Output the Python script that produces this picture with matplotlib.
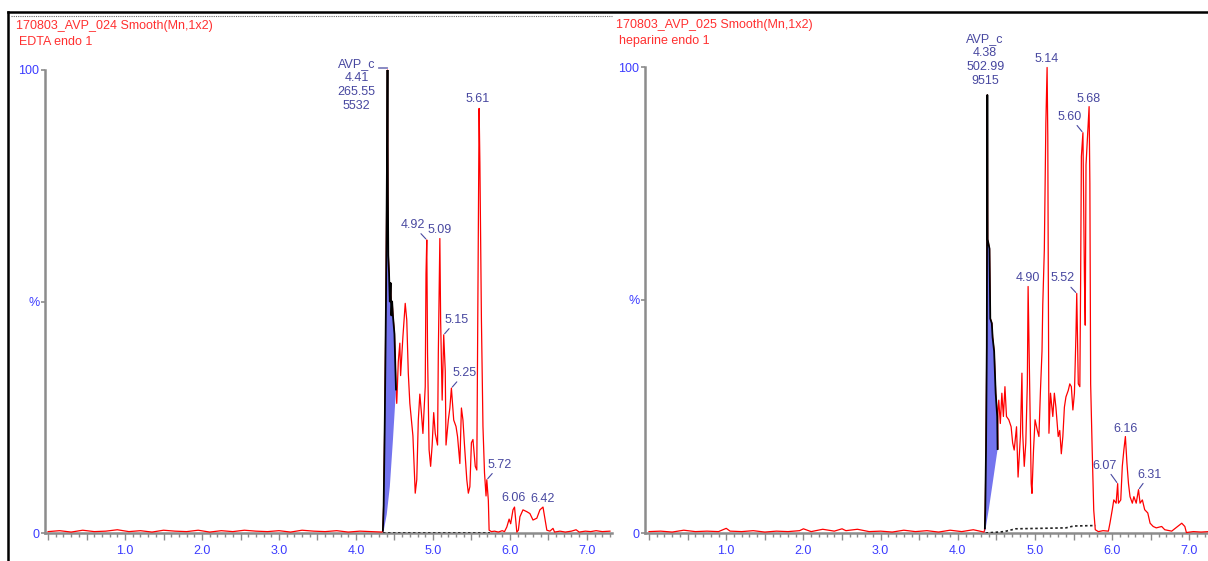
import matplotlib
matplotlib.use('Agg')
import matplotlib.pyplot as plt
from matplotlib.lines import Line2D
from matplotlib.ticker import MultipleLocator, FixedLocator
from matplotlib.transforms import offset_copy

plt.rcParams['font.family'] = ['Liberation Sans', 'DejaVu Sans']

W, H = 1208, 561

# ---------------- left run: EDTA ----------------
titles_l = ['170803_AVP_024 Smooth(Mn,1x2)', 'EDTA endo 1']
base_l_x = [0.0, 0.15, 0.3, 0.45, 0.6, 0.75, 0.9, 1.05, 1.2, 1.35, 1.5, 1.65, 1.8, 1.95,
            2.1, 2.25, 2.4, 2.55, 2.7, 2.85, 3.0, 3.15, 3.3, 3.45, 3.6, 3.75, 3.9, 4.05, 4.2, 4.34]
base_l_y = [0.3, 0.5, 0.2, 0.6, 0.3, 0.4, 0.7, 0.3, 0.5, 0.2, 0.6, 0.4, 0.3, 0.6,
            0.2, 0.5, 0.3, 0.6, 0.4, 0.3, 0.5, 0.2, 0.6, 0.4, 0.3, 0.5, 0.2, 0.4, 0.3, 0.2]
# integrated AVP_c peak (black)
peak_l_x = [4.350, 4.360, 4.375, 4.390, 4.400, 4.405, 4.410, 4.415, 4.420, 4.430,
            4.440, 4.450, 4.460, 4.470, 4.480, 4.500, 4.520]
peak_l_y = [0.5, 6, 25, 50, 73, 85, 100, 73, 60, 56, 50, 54, 47, 50, 47, 43, 31]
fill_l_x = [4.520, 4.480, 4.440, 4.400, 4.355]
fill_l_y = [31, 20, 10, 4, 0]
rest_l_x = [4.53, 4.55, 4.57, 4.58, 4.61, 4.64, 4.66, 4.68, 4.70, 4.74, 4.77, 4.79, 4.81, 4.83,
            4.85, 4.87, 4.90, 4.91, 4.92, 4.93, 4.95, 4.97, 4.99, 5.01, 5.03, 5.06, 5.07, 5.09,
            5.10, 5.12, 5.14, 5.16, 5.17, 5.20, 5.22, 5.24, 5.27, 5.30, 5.32, 5.35, 5.37, 5.39,
            5.41, 5.44, 5.46, 5.48, 5.50, 5.52, 5.55, 5.57, 5.58, 5.59, 5.60, 5.61, 5.62, 5.63,
            5.65, 5.67, 5.69, 5.70, 5.72, 5.73, 5.76, 5.80, 5.85, 5.90, 5.93, 5.96, 5.99, 6.01,
            6.04, 6.06, 6.09, 6.11, 6.13, 6.17, 6.22, 6.26, 6.30, 6.35, 6.39, 6.43, 6.48, 6.52,
            6.56, 6.58, 6.65, 6.72, 6.80, 6.86, 6.90, 6.98, 7.05, 7.12, 7.20, 7.30]
rest_l_y = [28, 37, 41, 34, 42.4, 49.6, 46, 34.5, 28, 21, 8.6, 11.5, 24.4, 30,
            26, 21.5, 31.6, 56, 63.3, 38.8, 18, 14.4, 19, 26, 21.5, 19, 38.8, 63.6,
            46, 28.7, 42.8, 35, 19, 24.4, 27, 31.3, 24.4, 23, 20.8, 15, 27, 24.4,
            19, 11.5, 8.6, 10, 19.5, 20.2, 14.4, 13.6, 38.8, 67, 91.7, 80, 62, 46,
            23, 13, 8, 11.5, 7, 0.6, 0.3, 0.4, 0.2, 0.5, 0.3, 1.3, 3, 2,
            5, 5.6, 0.2, 0.6, 3.5, 5, 4.6, 4.2, 2.8, 3.2, 5, 5.6, 0.6, 0.4,
            1, 0.2, 0.4, 0.2, 0.4, 0.7, 0.2, 0.4, 0.3, 0.5, 0.3, 0.4]
dot_l_x = [4.35, 5.74]
dot_l_y = [0.0, 0.0]
avp_l = ['AVP_c', '4.41', '265.55', '5532']
avp_l_pt = (4.41, 100)
# peak label, peak x, peak y
labels_l = [('4.92', 4.92, 63.3), ('5.09', 5.09, 63.6), ('5.15', 5.14, 42.8),
            ('5.25', 5.24, 31.3), ('5.61', 5.60, 91.7), ('5.72', 5.70, 11.5),
            ('6.06', 6.06, 5.6), ('6.42', 6.43, 5.6)]

# ---------------- right run: heparine ----------------
titles_r = ['170803_AVP_025 Smooth(Mn,1x2)', 'heparine endo 1']
base_r_x = [0.0, 0.15, 0.3, 0.45, 0.6, 0.75, 0.9, 1.0, 1.05, 1.2, 1.35, 1.5, 1.65, 1.8, 1.95,
            2.0, 2.1, 2.25, 2.4, 2.5, 2.55, 2.7, 2.85, 3.0, 3.15, 3.3, 3.45, 3.6, 3.75, 3.9,
            4.05, 4.2, 4.34]
base_r_y = [0.3, 0.4, 0.2, 0.6, 0.3, 0.4, 0.3, 1.0, 0.4, 0.3, 0.5, 0.2, 0.4, 0.3, 0.5,
            0.9, 0.3, 0.8, 0.4, 0.9, 0.5, 0.8, 0.3, 0.4, 0.2, 0.6, 0.3, 0.5, 0.2, 0.6,
            0.3, 0.7, 0.2]
peak_r_x = [4.350, 4.355, 4.365, 4.375, 4.378, 4.382, 4.386, 4.410, 4.420, 4.440,
            4.450, 4.470, 4.490, 4.510, 4.515]
peak_r_y = [1, 5, 18, 40, 62, 94, 63, 61, 46, 45, 42, 39, 30, 25, 18]
fill_r_x = [4.515, 4.450, 4.400, 4.350]
fill_r_y = [18, 10.6, 5, 0]
rest_r_x = [4.52, 4.53, 4.55, 4.57, 4.59, 4.61, 4.63, 4.66, 4.69, 4.71, 4.73, 4.76, 4.78,
            4.81, 4.83, 4.84, 4.86, 4.88, 4.90, 4.91, 4.93, 4.95, 4.96, 4.98, 5.00, 5.03,
            5.05, 5.07, 5.09, 5.10, 5.12, 5.14, 5.156, 5.165, 5.17, 5.18, 5.20, 5.23, 5.25,
            5.27, 5.30, 5.32, 5.34, 5.36, 5.38, 5.40, 5.43, 5.45, 5.47, 5.49, 5.51, 5.53,
            5.54, 5.56, 5.58, 5.59, 5.60, 5.62, 5.64, 5.65, 5.66, 5.70, 5.71, 5.72, 5.74,
            5.76, 5.78, 5.82, 5.88, 5.95, 5.97, 6.00, 6.02, 6.05, 6.07, 6.08, 6.11, 6.13,
            6.15, 6.17, 6.19, 6.21, 6.23, 6.26, 6.28, 6.31, 6.34, 6.36, 6.39, 6.42, 6.46,
            6.49, 6.53, 6.57, 6.64, 6.68, 6.77, 6.90, 6.94, 6.96, 7.05, 7.15, 7.25]
rest_r_y = [26.4, 28.5, 23.5, 30, 25, 31.4, 25, 24.3, 22.8, 19.3, 17.8, 22.8, 12,
            20.7, 34.3, 21.4, 14.3, 19.3, 32, 52.9, 32, 10.6, 8.5, 17.8, 24.3, 22,
            20.7, 30.6, 39, 49, 60.7, 88, 99.9, 85, 61.4, 21.4, 30, 25, 30,
            27, 20.7, 22, 17, 20.7, 27, 29.2, 30.6, 32, 31.4, 26.4, 30, 42.8,
            51.4, 32, 31.4, 53.6, 80.8, 85.9, 54.3, 44.6, 79, 91.5, 75, 32, 17.8,
            4.9, 0.7, 0.3, 0.5, 0.4, 2.1, 5, 7.1, 6.4, 10.6, 6.4, 7.1, 14.3,
            17.8, 20.7, 15, 10.6, 7.8, 6.4, 7.8, 6.4, 9.3, 6.4, 7.1, 5, 4.3,
            2.1, 1.4, 1.1, 1.4, 0.7, 0.4, 2.1, 1.4, 0.1, 0.3, 0.2, 0.3]
dot_r_x = [4.36, 4.60, 4.75, 5.40, 5.50, 5.78]
dot_r_y = [0.0, 0.3, 0.9, 1.1, 1.5, 1.6]
avp_r = ['AVP_c', '4.38', '502.99', '9515']
avp_r_pt = (4.38, 94)
labels_r = [('4.90', 4.91, 52.9), ('5.14', 5.156, 99.9), ('5.52', 5.54, 51.4),
            ('5.60', 5.62, 85.9), ('5.68', 5.70, 91.5), ('6.07', 6.07, 10.6),
            ('6.16', 6.17, 20.7), ('6.31', 6.34, 9.3)]

# label offsets in pixels (dx, dy) from the peak to the label centre, and leader flag
offs_l = {'4.92': (-14, 15, True), '5.09': (0, 9, False), '5.15': (13, 15, True),
          '5.25': (13, 15, True), '5.61': (-1, 9, False), '5.72': (13, 15, True),
          '6.06': (-1, 9, False), '6.42': (0, 8, False)}
offs_r = {'4.90': (0, 8, False), '5.14': (0, 8, False), '5.52': (-14, 15, True),
          '5.60': (-13, 16, True), '5.68': (-1, 8, False), '6.07': (-13, 18, True),
          '6.16': (0, 8, False), '6.31': (11, 15, True)}

RED = '#ff0000'
TXT_RED = '#ff3030'
TICK_BLUE = '#3c3cff'
LBL = '#4848a0'
GRAY = '#8c8c8c'
FILL = '#7474ee'
FS = 9

fig = plt.figure(figsize=(W / 100, H / 100), dpi=100)


def px_rect(x0, x1, ytop, ybot):
    return [x0 / W, 1 - ybot / H, (x1 - x0) / W, (ybot - ytop) / H]


def panel(rect, xlim, titles, tpos, base_x, base_y, pk_x, pk_y, fl_x, fl_y,
          rest_x, rest_y, dx_, dy_, avp, avp_pt, avp_off, avp_leader, labels, offs):
    ax = fig.add_axes(rect)
    ax.set_xlim(*xlim)
    ax.set_ylim(0, 100)
    for s in ['top', 'right']:
        ax.spines[s].set_visible(False)
    for s in ['left', 'bottom']:
        ax.spines[s].set_color(GRAY)
        ax.spines[s].set_linewidth(1.8)

    red_x = base_x + pk_x + rest_x
    red_y = base_y + pk_y + rest_y
    ax.plot(red_x, red_y, color=RED, lw=0.9, clip_on=False, zorder=3)
    ax.fill(pk_x + fl_x, pk_y + fl_y, color=FILL, lw=0, zorder=4)
    ax.plot(pk_x, pk_y, color='black', lw=1.3, zorder=5)
    ax.plot(dx_, dy_, color='#222222', lw=1.2, ls=(0, (1.5, 1.5)), zorder=5)

    ax.yaxis.set_major_locator(FixedLocator([0, 50, 100]))
    ax.set_yticklabels(['0', '%', '100'])
    ax.xaxis.set_major_locator(MultipleLocator(0.5))
    ax.xaxis.set_minor_locator(MultipleLocator(0.1))
    ax.set_xticklabels([])
    ax.tick_params(axis='y', direction='out', length=3, width=1.2, color=GRAY,
                   labelcolor=TICK_BLUE, labelsize=FS, pad=1)
    ax.tick_params(axis='x', which='major', direction='out', length=5, width=1.0,
                   color=GRAY, labelcolor=TICK_BLUE, labelsize=FS)
    ax.tick_params(axis='x', which='minor', direction='out', length=3, width=1.0, color=GRAY)
    for v in range(1, 8):
        ax.text(v, -2.6, '%.1f' % v, ha='center', va='top', color=TICK_BLUE, fontsize=FS)

    # integrated peak label block
    ax.annotate('\n'.join(avp), xy=avp_pt, xytext=avp_off, textcoords='offset pixels',
                ha='center', va='center', color=LBL, fontsize=FS, linespacing=1.25,
                annotation_clip=False)
    if avp_leader:
        # short horizontal leader from the label to the peak top
        top = offset_copy(ax.transData, fig=fig, x=0, y=2, units='dots')
        ax.annotate('', xy=avp_pt, xycoords=top, xytext=(-9, 0), textcoords='offset pixels',
                    arrowprops=dict(arrowstyle='-', color=LBL, lw=0.9, shrinkA=0, shrinkB=0),
                    annotation_clip=False)

    for lab, px, py in labels:
        ox, oy, lead = offs[lab]
        kw = {}
        if lead:
            kw['arrowprops'] = dict(arrowstyle='-', color=LBL, lw=0.8, shrinkA=0, shrinkB=1)
        ax.annotate(lab, xy=(px, py), xytext=(ox, oy), textcoords='offset pixels',
                    ha='center', va='center', color=LBL, fontsize=FS,
                    annotation_clip=False, zorder=6, **kw)

    fig.text(tpos[0] / W, 1 - tpos[1] / H, titles[0], color=TXT_RED, fontsize=FS,
             ha='left', va='center')
    fig.text((tpos[0] + 3) / W, 1 - (tpos[1] + 16) / H, titles[1], color=TXT_RED,
             fontsize=FS, ha='left', va='center')
    return ax


panel(px_rect(45, 611.5, 70, 533), (-0.04, 7.32), titles_l, (16, 26),
      base_l_x, base_l_y, peak_l_x, peak_l_y, fill_l_x, fill_l_y, rest_l_x, rest_l_y,
      dot_l_x, dot_l_y, avp_l, avp_l_pt, (-31, -15), True, labels_l, offs_l)
panel(px_rect(645, 1208, 67, 533), (-0.052, 7.24), titles_r, (616, 25),
      base_r_x, base_r_y, peak_r_x, peak_r_y, fill_r_x, fill_r_y, rest_r_x, rest_r_y,
      dot_r_x, dot_r_y, avp_r, avp_r_pt, (-2, 35), False, labels_r, offs_r)

# window frame
fig.add_artist(Line2D([8 / W, 1], [1 - 11.5 / H] * 2, transform=fig.transFigure,
                      color='black', lw=1.8))
fig.add_artist(Line2D([8 / W] * 2, [0, 1 - 11.5 / H], transform=fig.transFigure,
                      color='black', lw=1.8))
fig.add_artist(Line2D([11 / W, 612 / W], [1 - 15.5 / H] * 2, transform=fig.transFigure,
                      color='#666666', lw=0.8, ls=(0, (1, 1))))

fig.savefig('out.png', dpi=100)
